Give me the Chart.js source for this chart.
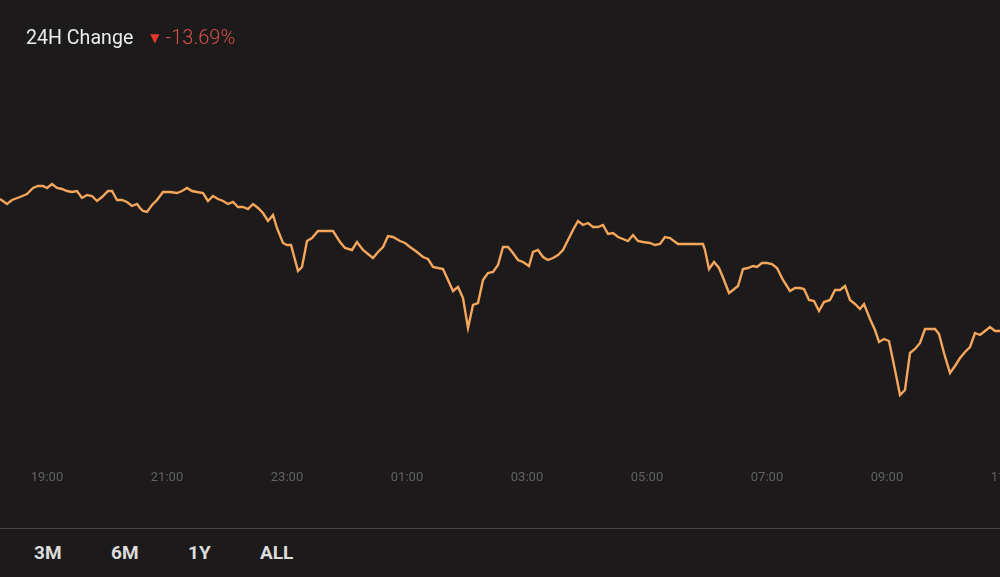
<!DOCTYPE html>
<html>
<head>
<meta charset="utf-8">
<title>24H Change</title>
<script src="https://cdn.jsdelivr.net/npm/chart.js@4/dist/chart.umd.min.js"></script>
<style>
    html, body {
        margin: 0;
        padding: 0;
        width: 1000px;
        height: 577px;
        overflow: hidden;
        background: #1c1a1b;
        font-family: Roboto, "Noto Sans", sans-serif;
    }
    .header {
        position: absolute;
        top: 27px;
        left: 26px;
        line-height: 20px;
        white-space: nowrap;
    }
    .header .title {
        color: #ececec;
        font-size: 19.6px;
    }
    .header .arrow {
        color: #e8392f;
        font-size: 12px;
        font-family: "DejaVu Sans", sans-serif;
        margin-left: 17px;
        vertical-align: 2px;
    }
    .header .change {
        color: #d9504a;
        font-size: 20px;
        font-weight: 300;
        margin-left: 6px;
    }
    .chart-wrap {
        position: absolute;
        top: 0;
        left: 0;
        width: 1000px;
        height: 500px;
    }
    .divider {
        position: absolute;
        top: 528px;
        left: 0;
        width: 1000px;
        height: 1px;
        background: #474547;
    }
    .ranges span {
        position: absolute;
        top: 543px;
        line-height: 20px;
        color: #dcdcdc;
        font-size: 19px;
        font-weight: 700;
    }
</style>
</head>
<body>
<div class="chart-wrap"><canvas id="priceChart" width="1000" height="500"></canvas></div>
<div class="header"><span class="title">24H Change</span><span class="arrow">▼</span><span class="change">-13.69%</span></div>
<div class="divider"></div>
<div class="ranges">
    <span style="left:34px">3M</span>
    <span style="left:111px">6M</span>
    <span style="left:188px">1Y</span>
    <span style="left:260px">ALL</span>
</div>
<script>
// Price readings off the 24H view (local time, 5 min steps roughly)
const times = [
    '18:13', '18:20', '18:25', '18:33', '18:40', '18:46', '18:51', '18:56', '19:00', '19:05',
    '19:10', '19:15', '19:20', '19:25', '19:30', '19:35', '19:40', '19:45', '19:50', '19:55',
    '20:01', '20:05', '20:10', '20:15', '20:20', '20:25', '20:30', '20:33', '20:36', '20:40',
    '20:45', '20:50', '20:56', '21:03', '21:10', '21:15', '21:20', '21:25', '21:30', '21:36',
    '21:41', '21:46', '21:51', '21:56', '22:01', '22:06', '22:11', '22:16', '22:21', '22:26',
    '22:31', '22:36', '22:41', '22:46', '22:50', '22:56', '23:00', '23:04', '23:11', '23:15',
    '23:20', '23:25', '23:31', '23:36', '23:46', '23:53', '23:58', '00:05', '00:10', '00:16',
    '00:21', '00:26', '00:31', '00:36', '00:41', '00:46', '00:53', '00:58', '01:03', '01:10',
    '01:16', '01:21', '01:26', '01:31', '01:36', '01:41', '01:46', '01:51', '01:56', '02:01',
    '02:06', '02:11', '02:16', '02:21', '02:26', '02:31', '02:36', '02:41', '02:46', '02:51',
    '02:56', '03:02', '03:06', '03:11', '03:16', '03:21', '03:26', '03:31', '03:36', '03:41',
    '03:46', '03:51', '03:56', '04:01', '04:06', '04:11', '04:16', '04:21', '04:26', '04:31',
    '04:36', '04:41', '04:46', '04:51', '04:56', '05:03', '05:08', '05:13', '05:18', '05:23',
    '05:31', '05:56', '05:58', '06:02', '06:07', '06:12', '06:17', '06:22', '06:26', '06:31',
    '06:36', '06:41', '06:46', '06:50', '06:55', '07:00', '07:05', '07:10', '07:16', '07:23',
    '07:28', '07:33', '07:37', '07:42', '07:47', '07:52', '07:57', '08:03', '08:08', '08:13',
    '08:18', '08:23', '08:28', '08:33', '08:37', '08:43', '08:48', '08:52', '08:57', '09:02',
    '09:08', '09:13', '09:18', '09:23', '09:28', '09:33', '09:38', '09:43', '09:48', '09:52',
    '09:57', '10:03', '10:08', '10:13', '10:18', '10:23', '10:28', '10:33', '10:38', '10:43',
    '10:48', '10:53'
];

const prices = [
    1.101, 1.096, 1.100, 1.103, 1.106, 1.112, 1.114, 1.114, 1.112, 1.116,
    1.112, 1.111, 1.109, 1.108, 1.109, 1.102, 1.105, 1.104, 1.099, 1.103,
    1.109, 1.109, 1.100, 1.100, 1.098, 1.094, 1.096, 1.092, 1.089, 1.088,
    1.095, 1.100, 1.108, 1.108, 1.107, 1.109, 1.112, 1.109, 1.108, 1.107,
    1.099, 1.104, 1.101, 1.099, 1.096, 1.098, 1.093, 1.093, 1.091, 1.096,
    1.092, 1.087, 1.079, 1.085, 1.072, 1.057, 1.055, 1.055, 1.029, 1.033,
    1.059, 1.062, 1.069, 1.069, 1.069, 1.058, 1.052, 1.050, 1.058, 1.050,
    1.046, 1.042, 1.048, 1.053, 1.064, 1.063, 1.059, 1.057, 1.053, 1.048,
    1.043, 1.041, 1.033, 1.032, 1.031, 1.020, 1.009, 1.013, 1.002, 0.972,
    0.995, 0.997, 1.020, 1.027, 1.028, 1.035, 1.053, 1.053, 1.047, 1.040,
    1.038, 1.034, 1.048, 1.050, 1.043, 1.040, 1.042, 1.045, 1.050, 1.060,
    1.070, 1.079, 1.075, 1.077, 1.073, 1.073, 1.075, 1.066, 1.067, 1.063,
    1.061, 1.059, 1.065, 1.059, 1.058, 1.057, 1.055, 1.056, 1.063, 1.062,
    1.056, 1.056, 1.050, 1.031, 1.038, 1.032, 1.020, 1.007, 1.010, 1.014,
    1.031, 1.032, 1.034, 1.033, 1.037, 1.037, 1.036, 1.032, 1.020, 1.009,
    1.012, 1.012, 1.011, 1.000, 0.999, 0.989, 0.998, 1.000, 1.010, 1.010,
    1.014, 1.000, 0.996, 0.991, 0.996, 0.981, 0.970, 0.958, 0.961, 0.959,
    0.930, 0.905, 0.910, 0.947, 0.951, 0.957, 0.971, 0.971, 0.971, 0.966,
    0.947, 0.927, 0.934, 0.942, 0.948, 0.953, 0.967, 0.965, 0.969, 0.973,
    0.969, 0.969
];

const tickLabels = ['19:00', '21:00', '23:00', '01:00', '03:00', '05:00', '07:00', '09:00', '11:00'];

// visible window (the y range is the chart's hidden price axis)
const windowStart = '18:13';
const windowEnd = '10:53';
const priceMin = 0.84;
const priceMax = 1.30;

document.addEventListener('DOMContentLoaded', () => {
    const ctx = document.getElementById('priceChart');
    if (!ctx) return;

    // minutes since midnight of the first day; morning hours roll into the next day
    function toMinutes(hhmm) {
        const [h, m] = hhmm.split(':').map(Number);
        return (h < 12 ? h + 24 : h) * 60 + m;
    }

    const points = times.map((t, i) => ({ x: toMinutes(t), y: prices[i] }));

    Chart.defaults.font.family = 'Roboto, "Noto Sans", sans-serif';

    new Chart(ctx, {
        type: 'line',
        data: {
            datasets: [{
                label: 'Price',
                data: points,
                borderColor: '#f5a65b',
                borderWidth: 2.4,
                pointRadius: 0,
                tension: 0,
                fill: false
            }]
        },
        options: {
            responsive: false,
            animation: false,
            layout: { padding: 0 },
            scales: {
                x: {
                    type: 'linear',
                    min: toMinutes(windowStart),
                    max: toMinutes(windowEnd),
                    grid: { display: false, drawTicks: false },
                    border: { display: false },
                    ticks: {
                        color: '#636162',
                        font: { size: 13 },
                        padding: 10,
                        maxRotation: 0,
                        autoSkip: false,
                        callback: (value, index) => tickLabels[index]
                    },
                    afterBuildTicks: axis => {
                        axis.ticks = tickLabels.map(t => ({ value: toMinutes(t) }));
                    },
                    afterFit: axis => {
                        axis.height = 40;
                        axis.paddingLeft = 0;
                        axis.paddingRight = 0;
                    }
                },
                y: {
                    display: false,
                    min: priceMin,
                    max: priceMax
                }
            },
            plugins: {
                legend: { display: false },
                tooltip: { enabled: false }
            }
        }
    });
});
</script>
</body>
</html>
